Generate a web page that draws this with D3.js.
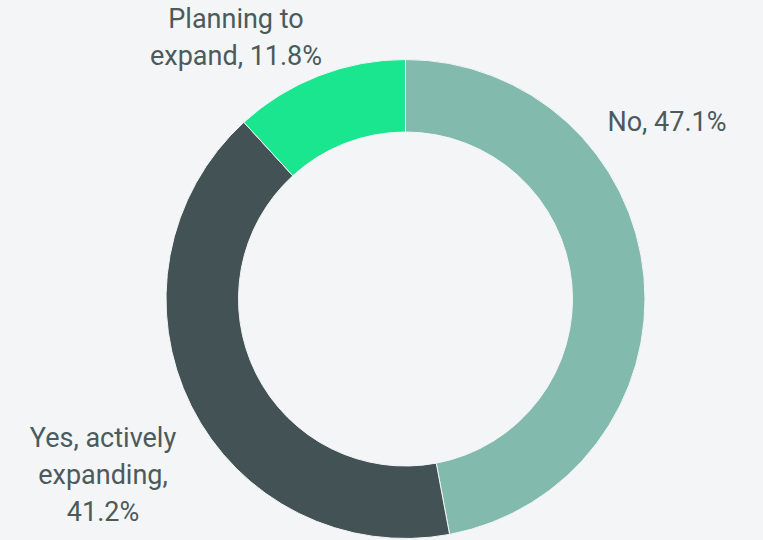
<!DOCTYPE html>
<meta charset="utf-8">
<style>
body { margin: 0; background: #f3f5f7; }
.label { font-family: Roboto, sans-serif; font-size: 27px; fill: #4b5a5b; }
</style>
<body></body>
<script src="https://d3js.org/d3.v7.min.js"></script>
<script>
// data
var categories = ["No", "Yes, actively expanding", "Planning to expand"];
var values = [47.1, 41.2, 11.8];
var colors = ["#82bbad", "#435254", "#1ae68f"];
// label text lines per slice
var labelLines = [["No, 47.1%"], ["Yes, actively", "expanding,", "41.2%"], ["Planning to", "expand, 11.8%"]];
// where each label block sits (first baseline), layout only
var labelPos = [[667, 131], [103, 447], [236, 28]];

var width = 763, height = 540;
var cx = 405.5, cy = 299, outerR = 239.5, innerR = 167;

var svg = d3.select("body").append("svg")
    .attr("width", width)
    .attr("height", height);

svg.append("rect").attr("width", width).attr("height", height).attr("fill", "#f3f5f7");

var pie = d3.pie().sort(null).value(function(d) { return d; });
var arc = d3.arc().innerRadius(innerR).outerRadius(outerR);

var g = svg.append("g").attr("transform", "translate(" + cx + "," + cy + ")");

g.selectAll("path")
    .data(pie(values))
    .enter().append("path")
    .attr("d", arc)
    .attr("fill", function(d, i) { return colors[i]; })
    .attr("stroke", "#f3f5f7")
    .attr("stroke-width", 1);

// labels
labelLines.forEach(function(lines, i) {
    var t = svg.append("text")
        .attr("class", "label")
        .attr("text-anchor", "middle")
        .attr("x", labelPos[i][0])
        .attr("y", labelPos[i][1]);
    lines.forEach(function(s, j) {
        t.append("tspan")
            .attr("x", labelPos[i][0])
            .attr("dy", j === 0 ? 0 : 37)
            .text(s);
    });
});
</script>
